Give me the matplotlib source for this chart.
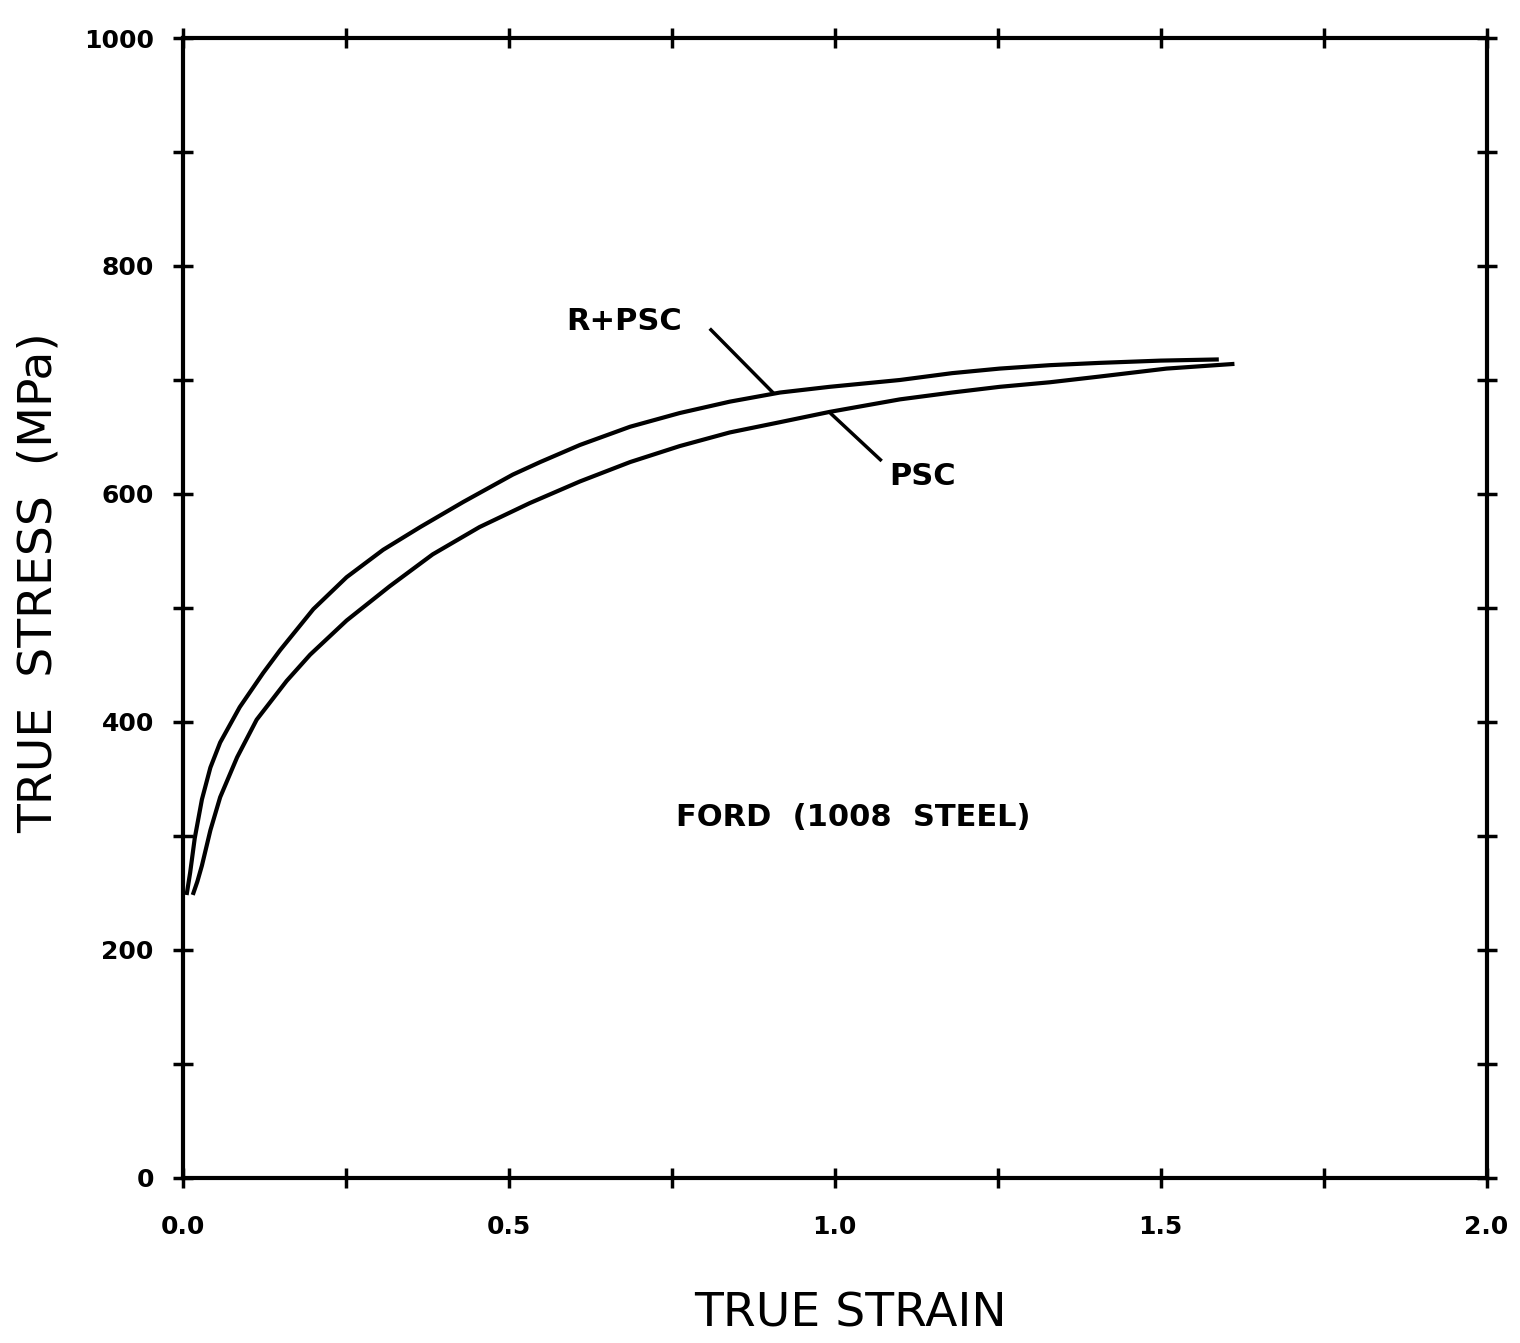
import matplotlib
matplotlib.use("Agg")
import matplotlib.pyplot as plt
import numpy as np

# Data
strain_rpsc = [0.006, 0.011, 0.018, 0.029, 0.042, 0.057, 0.087, 0.123, 0.149, 0.20, 0.251,
               0.307, 0.364, 0.43, 0.506, 0.548, 0.609, 0.686, 0.762, 0.839, 0.916, 0.992,
               1.10, 1.18, 1.253, 1.33, 1.406, 1.50, 1.586]
stress_rpsc = [250, 268, 298, 332, 360, 382, 413, 443, 463, 499, 527,
               551, 571, 593, 617, 628, 643, 659, 671, 681, 689, 694,
               700, 706, 710, 713, 715, 717, 718]

strain_psc = [0.016, 0.022, 0.029, 0.042, 0.057, 0.083, 0.113, 0.159, 0.195, 0.251,
              0.317, 0.383, 0.455, 0.532, 0.609, 0.686, 0.762, 0.839, 0.916, 0.992,
              1.10, 1.18, 1.253, 1.33, 1.406, 1.509, 1.61]
stress_psc = [250, 260, 274, 305, 334, 369, 402, 436, 459, 489,
              519, 547, 571, 592, 611, 628, 642, 654, 663, 672,
              683, 689, 694, 698, 703, 710, 714]

x_major = [0.0, 0.5, 1.0, 1.5, 2.0]
x_labels = ["0.0", "0.5", "1.0", "1.5", "2.0"]
y_major = [0, 200, 400, 600, 800, 1000]
y_labels = ["0", "200", "400", "600", "800", "1000"]

fig = plt.figure(figsize=(15.2, 13.43), dpi=100)
ax = fig.add_axes([0.1204, 0.1229, 0.978 - 0.1204, 0.9717 - 0.1229])

ax.plot(strain_rpsc, stress_rpsc, color="black", lw=3, solid_joinstyle="round")
ax.plot(strain_psc, stress_psc, color="black", lw=3, solid_joinstyle="round")

ax.set_xlim(0, 2.0)
ax.set_ylim(0, 1000)

for s in ax.spines.values():
    s.set_linewidth(3)

ax.set_xticks(x_major)
ax.set_xticklabels(x_labels, fontsize=18, fontweight="bold")
ax.set_yticks(y_major)
ax.set_yticklabels(y_labels, fontsize=18, fontweight="bold")
ax.set_xticks(np.arange(0, 2.01, 0.25), minor=True)
ax.set_yticks(np.arange(0, 1001, 100), minor=True)
ax.tick_params(which="both", direction="inout", length=14, width=2.5,
               top=True, right=True)
ax.tick_params(axis="x", which="major", pad=20)
ax.tick_params(axis="y", which="major", pad=14)

ax.set_xlabel("TRUE STRAIN", fontsize=34)
ax.xaxis.set_label_coords(0.512, -0.100)
ax.set_ylabel("TRUE  STRESS  (MPa)", fontsize=34)
ax.yaxis.set_label_coords(-0.093, 0.522)

# annotations
ax.text(0.677, 751, "R+PSC", fontsize=22, fontweight="bold", ha="center", va="center")
ax.plot([0.81, 0.905], [744, 689], color="black", lw=2.5)
ax.text(1.134, 615, "PSC", fontsize=22, fontweight="bold", ha="center", va="center")
ax.plot([0.995, 1.07], [670, 630], color="black", lw=2.5)
ax.text(1.028, 316, "FORD  (1008  STEEL)", fontsize=22, fontweight="bold",
        ha="center", va="center")

fig.savefig("out.png", dpi=100, facecolor="white")
